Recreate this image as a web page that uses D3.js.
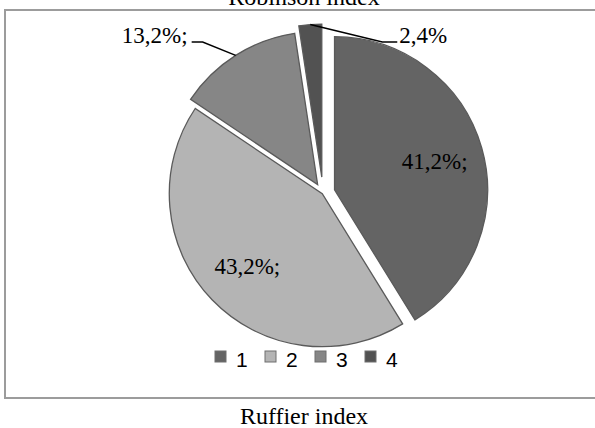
<!DOCTYPE html>
<html>
<head>
<meta charset="utf-8">
<script src="https://cdn.jsdelivr.net/npm/d3@7"></script>
<style>
  body { margin: 0; background: #fff; }
  svg { display: block; }
</style>
</head>
<body>
<div id="chart"></div>
<script>
// data
const categories = ["1", "2", "3", "4"];
const shares = [41.2, 43.2, 13.2, 2.4];
const labels = ["41,2%;", "43,2%;", "13,2%;", "2,4%"];
const topTitle = "Robinson index";
const bottomTitle = "Ruffier index";

const width = 595,
      height = 428;
const cx = 323, cy = 193, radius = 153;

// styling
const fills = ["#646464", "#b4b4b4", "#868686", "#525252"];
const explode = [12, 1, 10, 16];
const labelInside = [true, true, false, false];
const calloutDx = [0, 0, -33, 72];   // elbow of the leader line
const calloutRun = [0, 0, -11, 15];  // short horizontal piece
const serif = "'Liberation Serif', 'Times New Roman', serif";

var svg = d3.select("#chart").append("svg")
  .attr("width", width)
  .attr("height", height);

// frame
svg.append("rect")
  .attr("x", 5).attr("y", 10)
  .attr("width", width + 10).attr("height", 388)
  .style("fill", "none")
  .style("stroke", "#9c9c9c")
  .style("stroke-width", 2);

svg.append("text")
  .attr("x", 304).attr("y", 5)
  .attr("text-anchor", "middle")
  .style("font-family", serif)
  .style("font-size", "24px")
  .text(topTitle);

svg.append("text")
  .attr("x", 304).attr("y", 424)
  .attr("text-anchor", "middle")
  .style("font-family", serif)
  .style("font-size", "24px")
  .text(bottomTitle);

const pie = d3.pie().sort(null).value(d => d);
const arcs = pie(shares);
const arc = d3.arc().innerRadius(0).outerRadius(radius);

// shift of each slice along its middle angle
function shift(d, i) {
  const a = (d.startAngle + d.endAngle) / 2;
  return [explode[i] * Math.sin(a), -explode[i] * Math.cos(a)];
}

var g = svg.append("g")
  .attr("transform", `translate(${cx},${cy})`);

var slices = g.selectAll("g.slice").data(arcs)
  .enter().append("g")
  .attr("class", "slice")
  .attr("transform", (d, i) => `translate(${shift(d, i)})`);

slices.append("path")
  .attr("d", arc)
  .style("fill", (d, i) => fills[i])
  .style("stroke", "#5a5a5a")
  .style("stroke-width", 1.3);

// labels inside the big slices
const labelArc = d3.arc().innerRadius(radius * 0.68).outerRadius(radius * 0.68);
slices.filter((d, i) => labelInside[i])
  .append("text")
  .attr("transform", d => `translate(${labelArc.centroid(d)})`)
  .attr("dy", "0.35em")
  .attr("text-anchor", "middle")
  .style("font-family", serif)
  .style("font-size", "23px")
  .text(d => labels[d.index]);

// callouts for the small slices
const outerArc = d3.arc().innerRadius(radius).outerRadius(radius);
var callouts = slices.filter((d, i) => !labelInside[i]);

callouts.each(function(d) {
  const i = d.index;
  const p0 = outerArc.centroid(d);
  const s = shift(d, i);
  // elbow sits level with the top of the pie
  const ey = -radius - s[1] + 2;
  const p1 = [p0[0] + calloutDx[i], ey];
  const p2 = [p1[0] + calloutRun[i], ey];
  const sel = d3.select(this);
  sel.append("polyline")
    .attr("points", [p0, p1, p2].map(p => p.join(",")).join(" "))
    .style("fill", "none")
    .style("stroke", "#000")
    .style("stroke-width", 1.5);
  const left = calloutRun[i] < 0;
  sel.append("text")
    .attr("x", p2[0] + (left ? -4 : 2))
    .attr("y", ey + 1)
    .attr("text-anchor", left ? "end" : "start")
    .style("font-family", serif)
    .style("font-size", "23px")
    .text(labels[i]);
});

// legend
const legendX = d3.scalePoint().domain(categories).range([215, 365]);
var legend = svg.append("g").selectAll("g").data(categories)
  .enter().append("g")
  .attr("transform", d => `translate(${legendX(d)},351)`);

legend.append("rect")
  .attr("width", 11).attr("height", 11)
  .style("fill", (d, i) => fills[i])
  .style("stroke", "#6e6e6e")
  .style("stroke-width", 1);

legend.append("text")
  .attr("x", 21).attr("y", 15.5)
  .style("font-family", "'Liberation Sans', Arial, sans-serif")
  .style("font-size", "21px")
  .text(d => d);
</script>
</body>
</html>
